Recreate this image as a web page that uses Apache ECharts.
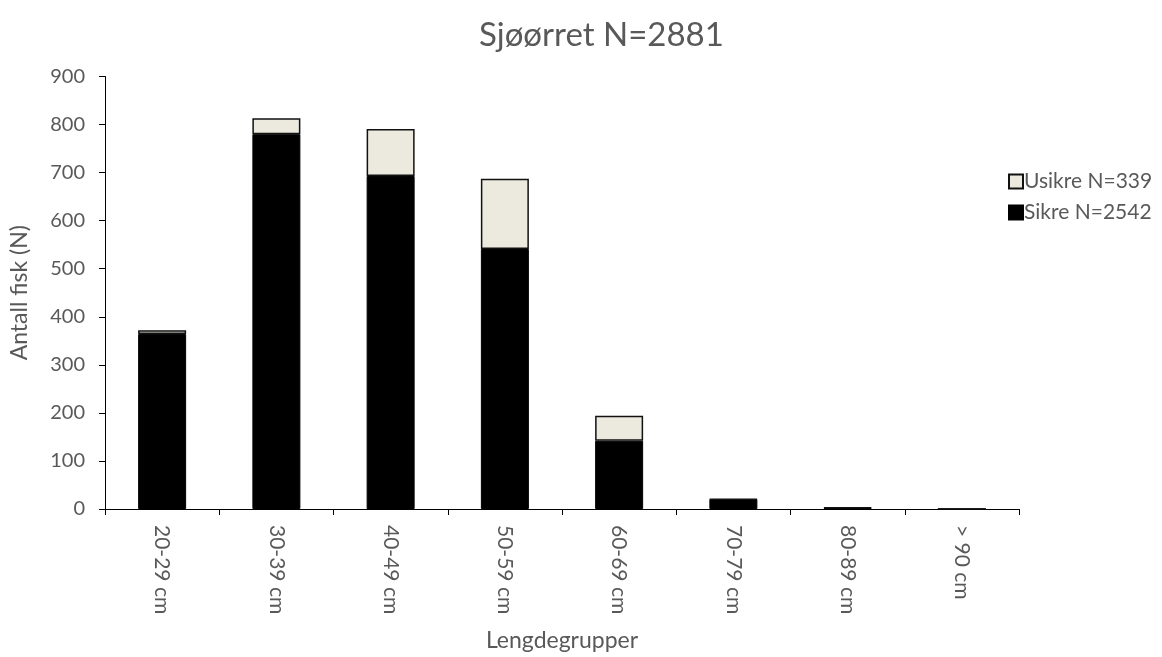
<!DOCTYPE html>
<html>
<head>
<meta charset="utf-8">
<script src="https://cdn.jsdelivr.net/npm/echarts@6/dist/echarts.min.js"></script>
<style>html,body{margin:0;padding:0;background:#fff}#c{width:1162px;height:657px}</style>
</head>
<body>
<div id="c"></div>
<script>
var categories = ['20-29 cm','30-39 cm','40-49 cm','50-59 cm','60-69 cm','70-79 cm','80-89 cm','> 90 cm'];
var sikre = [364, 780, 693, 541, 142, 20, 2, 0];
var usikre = [8, 33, 98, 146, 52, 1, 1, 0];
var titleText = 'Sjøørret N=2881';
var sikreName = 'Sikre N=2542';
var usikreName = 'Usikre N=339';

var font = 'Lato, "Open Sans", sans-serif';
var txt = '#595959';
var chart = echarts.init(document.getElementById('c'));
chart.setOption({
  animation: false,
  textStyle: {fontFamily: font},
  title: {text: titleText, left: 474, top: 14, textStyle: {fontFamily: font, fontSize: 33, fontWeight: 'normal', color: txt}},
  legend: {
    orient: 'vertical', left: 1003, top: 166, itemGap: 10, itemWidth: 14, itemHeight: 14,
    icon: 'rect',
    data: [usikreName, sikreName],
    textStyle: {fontFamily: font, fontSize: 21, color: txt, padding: [0,0,0,-4]}
  },
  grid: {left: 103, right: 143, top: 76.5, bottom: 145.5},
  xAxis: {
    type: 'category', data: categories,
    name: 'Lengdegrupper', nameLocation: 'middle', nameGap: 120,
    nameTextStyle: {fontFamily: font, fontSize: 23, color: txt},
    axisLine: {lineStyle: {color: '#000', width: 1}},
    axisTick: {show: true, length: 6, lineStyle: {color: '#000'}},
    axisLabel: {rotate: -90, fontFamily: font, fontSize: 21, color: txt, margin: 16}
  },
  yAxis: {
    type: 'value', min: 0, max: 900, interval: 100,
    name: 'Antall fisk (N)', nameLocation: 'middle', nameGap: 74,
    nameTextStyle: {fontFamily: font, fontSize: 23, color: txt},
    axisLine: {show: true, lineStyle: {color: '#000', width: 1}},
    axisTick: {show: true, length: 6, lineStyle: {color: '#000'}},
    axisLabel: {fontFamily: font, fontSize: 20, color: txt, margin: 20},
    splitLine: {show: false}
  },
  series: [
    {name: sikreName, type: 'bar', stack: 'a', barWidth: 48, data: sikre,
     itemStyle: {color: '#000', borderColor: '#000', borderWidth: 1}},
    {name: usikreName, type: 'bar', stack: 'a', barWidth: 48, data: usikre,
     itemStyle: {color: '#ECE9DF', borderColor: '#111', borderWidth: 1.5}}
  ]
});
</script>
</body>
</html>
